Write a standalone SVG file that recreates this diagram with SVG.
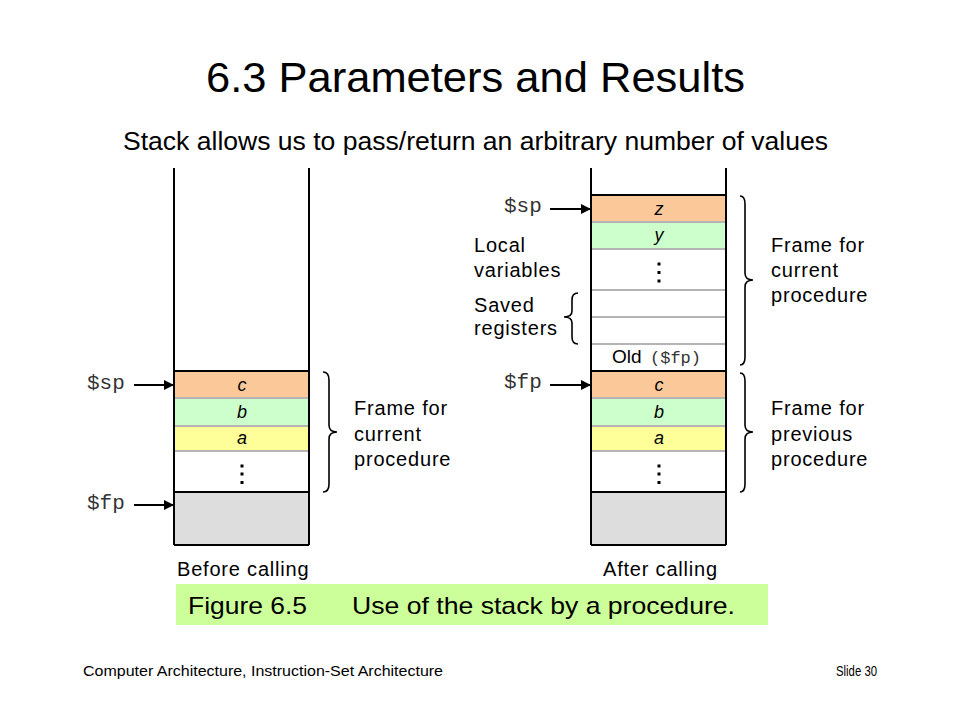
<svg xmlns="http://www.w3.org/2000/svg" width="960" height="720" viewBox="0 0 960 720">
<defs>
<marker id="ah" viewBox="0 0 10 10" refX="10" refY="5" markerWidth="10" markerHeight="10" markerUnits="userSpaceOnUse" orient="auto">
<path d="M0,0 L10,5 L0,10 z" fill="#000"/>
</marker>
<style>
.t{font-family:"Liberation Sans",Arial,sans-serif;fill:#000}
.m{font-family:"Liberation Mono","Courier New",monospace;fill:#333}
.lbl{font-family:"Liberation Sans",Arial,sans-serif;font-size:20px;letter-spacing:0.8px;fill:#000}
.cell{font-family:"Liberation Sans",Arial,sans-serif;font-size:18px;font-style:italic;fill:#000;text-anchor:middle}
.side{stroke:#000;stroke-width:2;fill:none}
.thick{stroke:#000;stroke-width:2}
.thin{stroke:#b4b4b4;stroke-width:2}
.brace{stroke:#000;stroke-width:1.6;fill:none}
.arr{stroke:#000;stroke-width:2;marker-end:url(#ah)}
.dot{fill:#000}
</style>
</defs>
<rect width="960" height="720" fill="#fff"/>

<g id="title">
<text class="t" x="206" y="92" font-size="42" textLength="539" lengthAdjust="spacingAndGlyphs">6.3  Parameters and Results</text>
<text class="t" x="123" y="150" font-size="25" textLength="705" lengthAdjust="spacingAndGlyphs">Stack allows us to pass/return an arbitrary number of values</text>
</g>

<g id="stack-before">
<rect x="174" y="371" width="135" height="27" fill="#fbc89a"/>
<rect x="174" y="398" width="135" height="28" fill="#ccffcc"/>
<rect x="174" y="426" width="135" height="25" fill="#ffff99"/>
<rect x="174" y="492" width="135" height="53" fill="#dddddd"/>
<line class="thin" x1="174" y1="398" x2="309" y2="398"/>
<line class="thin" x1="174" y1="426" x2="309" y2="426"/>
<line class="thin" x1="174" y1="451" x2="309" y2="451"/>
<line class="thick" x1="174" y1="371" x2="309" y2="371"/>
<line class="thick" x1="174" y1="492" x2="309" y2="492"/>
<line class="thick" x1="174" y1="545" x2="309" y2="545"/>
<path class="side" d="M174,168 V545 M309,168 V545"/>
<text class="cell" x="242" y="391">c</text>
<text class="cell" x="242" y="418">b</text>
<text class="cell" x="242" y="444">a</text>
<rect class="dot" x="240.5" y="464.5" width="3" height="3"/>
<rect class="dot" x="240.5" y="472.5" width="3" height="3"/>
<rect class="dot" x="240.5" y="481" width="3" height="3"/>
<text class="lbl" x="177" y="576">Before calling</text>
</g>

<g id="stack-after">
<rect x="591" y="195" width="135" height="27" fill="#fbc89a"/>
<rect x="591" y="222" width="135" height="27" fill="#ccffcc"/>
<rect x="591" y="371" width="135" height="27" fill="#fbc89a"/>
<rect x="591" y="398" width="135" height="28" fill="#ccffcc"/>
<rect x="591" y="426" width="135" height="25" fill="#ffff99"/>
<rect x="591" y="492" width="135" height="53" fill="#dddddd"/>
<line class="thin" x1="591" y1="222" x2="726" y2="222"/>
<line class="thin" x1="591" y1="249" x2="726" y2="249"/>
<line class="thin" x1="591" y1="290" x2="726" y2="290"/>
<line class="thin" x1="591" y1="317" x2="726" y2="317"/>
<line class="thin" x1="591" y1="344" x2="726" y2="344"/>
<line class="thin" x1="591" y1="398" x2="726" y2="398"/>
<line class="thin" x1="591" y1="426" x2="726" y2="426"/>
<line class="thin" x1="591" y1="451" x2="726" y2="451"/>
<line class="thick" x1="591" y1="195" x2="726" y2="195"/>
<line class="thick" x1="591" y1="371" x2="726" y2="371"/>
<line class="thick" x1="591" y1="492" x2="726" y2="492"/>
<line class="thick" x1="591" y1="545" x2="726" y2="545"/>
<path class="side" d="M591,168 V545 M726,168 V545"/>
<text class="cell" x="659" y="215">z</text>
<text class="cell" x="659" y="241">y</text>
<rect class="dot" x="657.5" y="262.5" width="3" height="3"/>
<rect class="dot" x="657.5" y="271" width="3" height="3"/>
<rect class="dot" x="657.5" y="279.5" width="3" height="3"/>
<text class="t" x="612" y="363" font-size="19">Old</text>
<text class="m" x="650" y="363" font-size="17">($fp)</text>
<text class="cell" x="659" y="391">c</text>
<text class="cell" x="659" y="418">b</text>
<text class="cell" x="659" y="444">a</text>
<rect class="dot" x="657.5" y="464.5" width="3" height="3"/>
<rect class="dot" x="657.5" y="472.5" width="3" height="3"/>
<rect class="dot" x="657.5" y="481" width="3" height="3"/>
<text class="lbl" x="603" y="576">After calling</text>
</g>

<g id="pointers">
<text class="m" x="87" y="389" font-size="21">$sp</text>
<text class="m" x="87" y="509" font-size="21">$fp</text>
<text class="m" x="504" y="212" font-size="21">$sp</text>
<text class="m" x="504" y="388" font-size="21">$fp</text>
</g>

<g id="connectors">
<line class="arr" x1="134" y1="385" x2="174" y2="385"/>
<line class="arr" x1="134" y1="505" x2="174" y2="505"/>
<line class="arr" x1="550" y1="209" x2="591" y2="209"/>
<line class="arr" x1="550" y1="385" x2="591" y2="385"/>
</g>

<g id="brace-before">
<path class="brace" d="M323,372 Q329,372 329,380 L329,425 Q329,432 337,432 Q329,432 329,439 L329,484 Q329,492 323,492"/>
<text class="lbl" x="354" y="415">Frame for</text>
<text class="lbl" x="354" y="441">current</text>
<text class="lbl" x="354" y="466">procedure</text>
</g>

<g id="brace-current">
<path class="brace" d="M740,196 Q745,196 745,204 L745,273 Q745,280 753,280 Q745,280 745,287 L745,357 Q745,365 740,365"/>
<text class="lbl" x="771" y="252">Frame for</text>
<text class="lbl" x="771" y="277">current</text>
<text class="lbl" x="771" y="302">procedure</text>
</g>

<g id="brace-previous">
<path class="brace" d="M740,373 Q745,373 745,381 L745,425 Q745,432 753,432 Q745,432 745,439 L745,484 Q745,492 740,492"/>
<text class="lbl" x="771" y="415">Frame for</text>
<text class="lbl" x="771" y="441">previous</text>
<text class="lbl" x="771" y="466">procedure</text>
</g>

<g id="local-vars">
<text class="lbl" x="474" y="252">Local</text>
<text class="lbl" x="474" y="277">variables</text>
</g>

<g id="saved-regs">
<path class="brace" d="M578,293 Q572,293 572,300 L572,311 Q572,317 564,317 Q572,317 572,323 L572,337 Q572,344 578,344"/>
<text class="lbl" x="474" y="312">Saved</text>
<text class="lbl" x="474" y="335">registers</text>
</g>

<g id="caption">
<rect x="176" y="584" width="592" height="41" fill="#ccff99"/>
<text class="t" x="188" y="614" font-size="24" textLength="119" lengthAdjust="spacingAndGlyphs">Figure 6.5</text>
<text class="t" x="352" y="614" font-size="24" textLength="383" lengthAdjust="spacingAndGlyphs">Use of the stack by a procedure.</text>
</g>

<g id="footer">
<text class="t" x="83" y="676" font-size="14" textLength="360" lengthAdjust="spacingAndGlyphs">Computer Architecture, Instruction-Set Architecture</text>
<text class="t" x="836" y="676" font-size="14" textLength="41" lengthAdjust="spacingAndGlyphs">Slide 30</text>
</g>
</svg>
